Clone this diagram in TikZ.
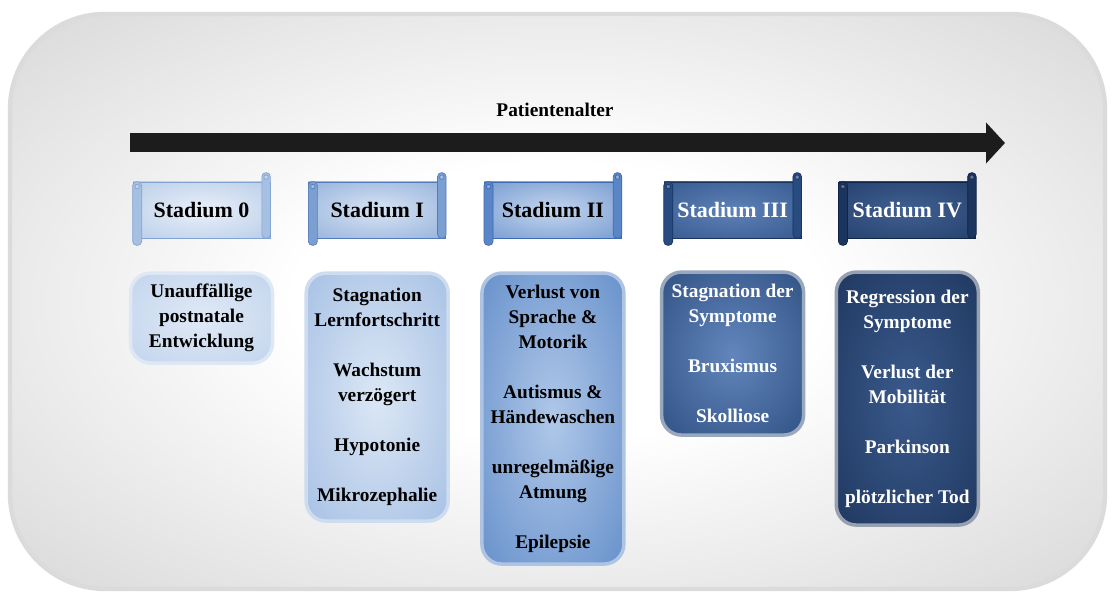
\documentclass[tikz,border=0pt]{standalone}
\usepackage{fontspec}
\setmainfont{Liberation Serif}
\usetikzlibrary{positioning,arrows.meta,calc}
\definecolor{rtArrow}{RGB}{28,28,28}
\definecolor{hIn0}{RGB}{234,240,249}
\definecolor{hOut0}{RGB}{166,192,226}
\definecolor{hLine0}{RGB}{130,162,208}
\definecolor{hIn1}{RGB}{216,228,244}
\definecolor{hOut1}{RGB}{124,159,210}
\definecolor{hLine1}{RGB}{84,124,188}
\definecolor{hIn2}{RGB}{196,214,238}
\definecolor{hOut2}{RGB}{90,133,198}
\definecolor{hLine2}{RGB}{62,106,176}
\definecolor{hIn3}{RGB}{94,130,184}
\definecolor{hOut3}{RGB}{40,75,128}
\definecolor{hLine3}{RGB}{26,52,96}
\definecolor{hIn4}{RGB}{64,96,146}
\definecolor{hOut4}{RGB}{28,53,95}
\definecolor{hLine4}{RGB}{17,37,70}
\definecolor{bIn0}{RGB}{224,233,246}
\definecolor{bOut0}{RGB}{182,204,233}
\definecolor{bIn1}{RGB}{220,231,245}
\definecolor{bOut1}{RGB}{146,178,222}
\definecolor{bIn2}{RGB}{176,200,233}
\definecolor{bOut2}{RGB}{74,123,191}
\definecolor{bIn3}{RGB}{98,134,188}
\definecolor{bOut3}{RGB}{30,61,110}
\definecolor{bIn4}{RGB}{58,90,140}
\definecolor{bOut4}{RGB}{21,43,79}
\colorlet{rtInner}{white}
\colorlet{rtOuter}{gray}
\pgfdeclareradialshading[rtInner,rtOuter]{rtglow}{\pgfpoint{0bp}{0bp}}{color(0bp)=(rtInner); color(50bp)=(rtOuter); color(72bp)=(rtOuter)}
\pgfdeclareradialshading{rtpanel}{\pgfpoint{0bp}{0bp}}{color(0bp)=(white); color(12bp)=(white); color(34bp)=(black!14); color(50bp)=(black!30); color(72bp)=(black!36)}

\begin{document}
\begin{tikzpicture}[
    node distance=0.76cm,
    glow/.style 2 args={shading=rtglow, /utils/exec={\colorlet{rtInner}{#1}\colorlet{rtOuter}{#2}}},
    panel/.style={shading=rtpanel, draw=black!14, line width=2.5pt, rounded corners=1.9cm},
    timeline/.style={line width=0.38cm, draw=rtArrow, -{Triangle[length=0.38cm, width=0.8cm]}},
    agelabel/.style={font=\fontsize{11}{13}\selectfont\bfseries, inner sep=1pt},
    head/.style={rectangle, thin, minimum width=2.74cm, minimum height=1.12cm, inner sep=0pt, font=\fontsize{12.5}{15}\selectfont\bfseries},
    card/.style={rectangle, rounded corners=0.4cm, minimum width=2.84cm, inner sep=2pt, align=center, line width=0.07cm, font=\fontsize{11}{14.2}\selectfont\bfseries}
]
  \useasboundingbox (0,0) rectangle (22.36,11.9);
  \path[panel] (0.2,0.12) rectangle (22.1,11.62);

  \coordinate (ageStart) at (2.6,9.04);
  \coordinate (ageEnd) at (20.1,9.04);
  \draw[timeline] (ageStart) -- (ageEnd);
  \node[agelabel] (ageLabel) at (11.1,9.7) {Patientenalter};

  \node[head, glow={hIn0}{hOut0}, draw=hLine0] (stage0) at (4.03,7.7) {Stadium 0};
  \node[head, glow={hIn1}{hOut1}, draw=hLine1] (stage1) [right=of stage0] {Stadium I};
  \node[head, glow={hIn2}{hOut2}, draw=hLine2] (stage2) [right=of stage1] {Stadium II};
  \node[head, glow={hIn3}{hOut3}, draw=hLine3, text=white] (stage3) [right=0.84cm of stage2] {Stadium III};
  \node[head, glow={hIn4}{hOut4}, draw=hLine4, text=white] (stage4) [right=0.74cm of stage3] {Stadium IV};

  \foreach \n/\c/\l in {stage0/hOut0/hLine0, stage1/hOut1/hLine1, stage2/hOut2/hLine2, stage3/hOut3/hLine3, stage4/hOut4/hLine4} {
    \draw[fill=\c, draw=\l, rounded corners=0.08cm] (\n.north west) rectangle ($(\n.south west)+(0.18,-0.14)$);
    \draw[fill=\c, draw=\l, rounded corners=0.08cm] ($(\n.north east)+(-0.17,0.18)$) rectangle (\n.south east);
    \draw[fill=\c!70!white, draw=\l] ($(\n.north west)+(0.09,-0.1)$) circle (0.045);
    \draw[fill=\c!70!white, draw=\l] ($(\n.north east)+(-0.085,0.09)$) circle (0.045);
  }

  \node[card, glow={bIn0}{bOut0}, draw=bOut0!45!white, minimum height=1.8cm] (sign0) [below=0.66cm of stage0] {Unauffällige\\postnatale\\Entwicklung};
  \node[card, glow={bIn1}{bOut1}, draw=bOut1!45!white, minimum height=4.96cm] (sign1) [below=0.66cm of stage1] {Stagnation\\Lernfortschritt\\[0.5cm]Wachstum\\verzögert\\[0.5cm]Hypotonie\\[0.5cm]Mikrozephalie};
  \node[card, glow={bIn2}{bOut2}, draw=bOut2!45!white, minimum height=5.82cm] (sign2) [below=0.66cm of stage2] {Verlust von\\Sprache \&\\Motorik\\[0.5cm]Autismus \&\\Händewaschen\\[0.5cm]unregelmäßige\\Atmung\\[0.5cm]Epilepsie};
  \node[card, glow={bIn3}{bOut3}, draw=bOut3!45!white, text=white, minimum height=3.26cm] (sign3) [below=0.64cm of stage3] {Stagnation der\\Symptome\\[0.5cm]Bruxismus\\[0.5cm]Skolliose};
  \node[card, glow={bIn4}{bOut4}, draw=bOut4!45!white, text=white, minimum height=5.06cm] (sign4) [below=0.64cm of stage4] {Regression der\\Symptome\\[0.5cm]Verlust der\\Mobilität\\[0.5cm]Parkinson\\[0.5cm]plötzlicher Tod};
\end{tikzpicture}
\end{document}
